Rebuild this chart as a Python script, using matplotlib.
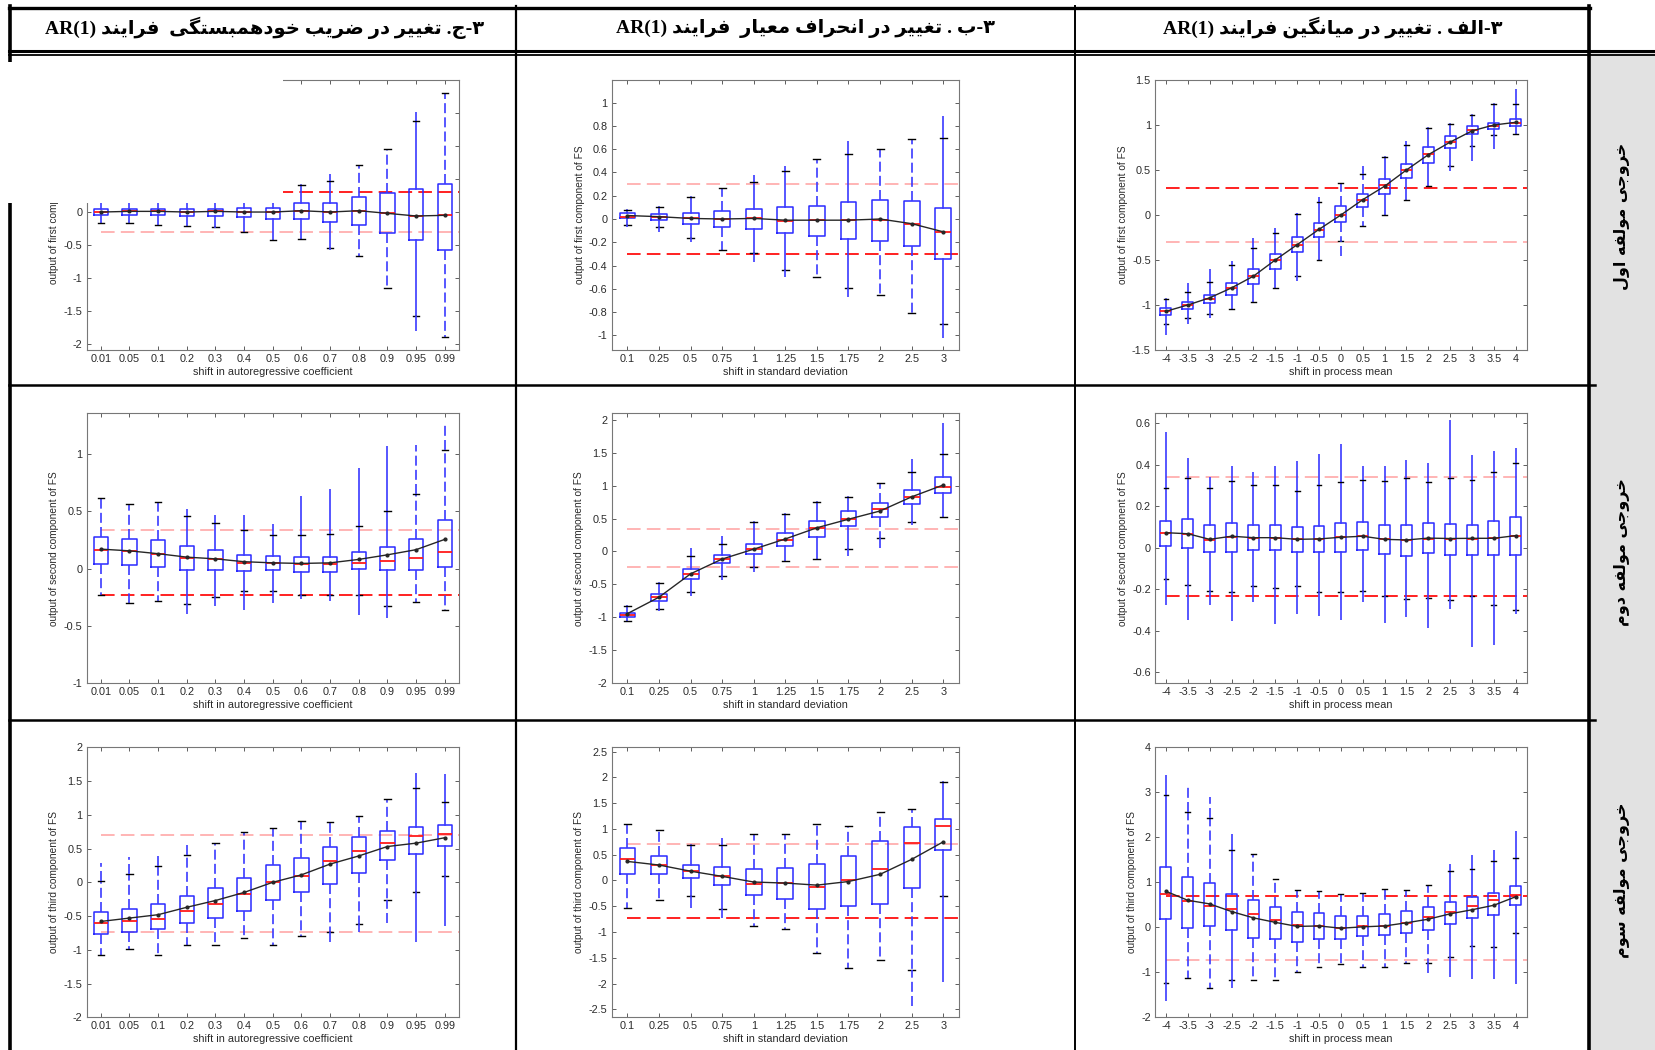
import matplotlib
matplotlib.use('Agg')
import matplotlib.pyplot as plt
from matplotlib.lines import Line2D
from matplotlib.patches import Rectangle
from matplotlib.ticker import FuncFormatter

plt.rcParams['font.family'] = ['Liberation Sans', 'DejaVu Sans']

# ---- categories -------------------------------------------------------
ac_labels = ['0.01', '0.05', '0.1', '0.2', '0.3', '0.4', '0.5', '0.6', '0.7',
             '0.8', '0.9', '0.95', '0.99']
sd_labels = ['0.1', '0.25', '0.5', '0.75', '1', '1.25', '1.5', '1.75', '2',
             '2.5', '3']
mn_labels = ['-4', '-3.5', '-3', '-2.5', '-2', '-1.5', '-1', '-0.5', '0',
             '0.5', '1', '1.5', '2', '2.5', '3', '3.5', '4']

# ---- row 1 : first component -----------------------------------------
ac1_q1 = [-0.04, -0.04, -0.04, -0.06, -0.06, -0.07, -0.10, -0.11, -0.15, -0.20, -0.32, -0.43, -0.57]
ac1_q3 = [0.04, 0.04, 0.05, 0.05, 0.05, 0.06, 0.06, 0.13, 0.14, 0.23, 0.29, 0.35, 0.42]
ac1_med = [0.0, 0.01, 0.01, 0.0, 0.01, 0.0, 0.0, 0.02, 0.0, 0.02, -0.02, -0.06, -0.04]
ac1_mean = [0.0, 0.01, 0.01, 0.0, 0.01, 0.0, 0.0, 0.02, 0.0, 0.02, -0.02, -0.06, -0.05]
ac1_wlo = [-0.16, -0.17, -0.19, -0.21, -0.23, -0.30, -0.43, -0.41, -0.55, -0.67, -1.15, -1.58, -1.89]
ac1_whi = [0.17, 0.17, 0.17, 0.17, 0.17, 0.17, 0.17, 0.41, 0.47, 0.71, 0.95, 1.38, 1.80]
ac1_lo = [-0.17, -0.17, -0.19, -0.21, -0.24, -0.30, -0.43, -0.41, -0.57, -0.67, -1.15, -1.80, -1.89]
ac1_hi = [0.17, 0.17, 0.17, 0.17, 0.17, 0.17, 0.17, 0.41, 0.57, 0.71, 0.95, 1.51, 1.80]

sd1_q1 = [0.006, -0.01, -0.043, -0.066, -0.083, -0.123, -0.146, -0.17, -0.19, -0.23, -0.347]
sd1_q3 = [0.05, 0.043, 0.05, 0.07, 0.083, 0.10, 0.115, 0.143, 0.163, 0.155, 0.097]
sd1_med = [0.02, 0.02, 0.005, 0.0, 0.005, -0.015, -0.01, -0.01, -0.01, -0.04, -0.11]
sd1_mean = [0.03, 0.02, 0.005, 0.0, 0.005, -0.01, -0.01, -0.01, 0.0, -0.04, -0.11]
sd1_wlo = [-0.05, -0.066, -0.16, -0.27, -0.29, -0.44, -0.495, -0.59, -0.656, -0.81, -0.90]
sd1_whi = [0.075, 0.106, 0.19, 0.27, 0.32, 0.415, 0.52, 0.56, 0.60, 0.69, 0.70]
sd1_lo = [-0.066, -0.11, -0.20, -0.27, -0.37, -0.50, -0.495, -0.67, -0.656, -0.81, -1.02]
sd1_hi = [0.075, 0.106, 0.19, 0.27, 0.375, 0.455, 0.52, 0.67, 0.60, 0.69, 0.885]

mn1_q1 = [-1.107, -1.04, -0.974, -0.893, -0.763, -0.596, -0.415, -0.244, -0.078, 0.089, 0.237, 0.41, 0.58, 0.744, 0.896, 0.96, 0.985]
mn1_q3 = [-1.033, -0.967, -0.885, -0.752, -0.596, -0.43, -0.244, -0.089, 0.096, 0.237, 0.404, 0.57, 0.756, 0.88, 0.985, 1.02, 1.07]
mn1_med = [-1.07, -1.0, -0.93, -0.81, -0.68, -0.5, -0.33, -0.17, 0.0, 0.17, 0.33, 0.5, 0.68, 0.81, 0.94, 0.99, 1.02]
mn1_mean = [-1.07, -1.0, -0.92, -0.81, -0.68, -0.5, -0.33, -0.16, 0.0, 0.17, 0.32, 0.5, 0.67, 0.81, 0.935, 1.0, 1.03]
mn1_wlo = [-1.207, -1.15, -1.096, -1.05, -0.967, -0.807, -0.678, -0.50, -0.285, -0.126, 0.0, 0.167, 0.318, 0.54, 0.763, 0.885, 0.896]
mn1_whi = [-0.933, -0.855, -0.744, -0.56, -0.367, -0.2, 0.01, 0.14, 0.355, 0.46, 0.644, 0.78, 0.963, 1.015, 1.107, 1.23, 1.23]
mn1_lo = [-1.337, -1.215, -1.15, -1.05, -0.967, -0.807, -0.733, -0.50, -0.46, -0.126, 0.0, 0.167, 0.318, 0.49, 0.6, 0.737, 0.896]
mn1_hi = [-0.933, -0.75, -0.6, -0.51, -0.25, -0.145, 0.026, 0.2, 0.355, 0.544, 0.644, 0.826, 0.963, 1.015, 1.107, 1.23, 1.396]

# ---- row 2 : second component ----------------------------------------
ac2_q1 = [0.04, 0.035, 0.012, -0.01, -0.01, -0.023, -0.015, -0.03, -0.03, -0.003, -0.015, -0.01, 0.012]
ac2_q3 = [0.28, 0.26, 0.25, 0.2, 0.165, 0.122, 0.11, 0.1, 0.1, 0.145, 0.19, 0.255, 0.427]
ac2_med = [0.165, 0.15, 0.13, 0.09, 0.08, 0.045, 0.05, 0.04, 0.04, 0.05, 0.065, 0.09, 0.145]
ac2_mean = [0.17, 0.155, 0.13, 0.10, 0.085, 0.06, 0.05, 0.045, 0.05, 0.08, 0.12, 0.165, 0.255]
ac2_wlo = [-0.227, -0.305, -0.28, -0.31, -0.25, -0.2, -0.2, -0.23, -0.23, -0.23, -0.325, -0.29, -0.366]
ac2_whi = [0.62, 0.567, 0.58, 0.46, 0.4, 0.337, 0.29, 0.29, 0.305, 0.37, 0.5, 0.65, 1.04]
ac2_lo = [-0.227, -0.305, -0.28, -0.40, -0.33, -0.36, -0.30, -0.27, -0.285, -0.41, -0.43, -0.29, -0.366]
ac2_hi = [0.62, 0.567, 0.58, 0.52, 0.465, 0.465, 0.39, 0.63, 0.695, 0.88, 1.07, 1.08, 1.27]

sd2_q1 = [-0.995, -0.756, -0.42, -0.183, -0.04, 0.08, 0.213, 0.386, 0.518, 0.72, 0.883]
sd2_q3 = [-0.934, -0.65, -0.27, -0.056, 0.11, 0.28, 0.47, 0.62, 0.73, 0.93, 1.127]
sd2_med = [-0.96, -0.70, -0.35, -0.12, 0.03, 0.17, 0.35, 0.50, 0.64, 0.82, 0.98]
sd2_mean = [-0.945, -0.695, -0.34, -0.115, 0.035, 0.19, 0.36, 0.49, 0.615, 0.83, 1.01]
sd2_wlo = [-1.056, -0.878, -0.62, -0.375, -0.23, -0.147, -0.117, 0.04, 0.2, 0.44, 0.518]
sd2_whi = [-0.83, -0.477, -0.07, 0.12, 0.44, 0.57, 0.756, 0.822, 1.035, 1.21, 1.477]
sd2_lo = [-1.056, -0.91, -0.675, -0.44, -0.32, -0.147, -0.117, -0.07, 0.045, 0.40, 0.518]
sd2_hi = [-0.83, -0.477, 0.046, 0.24, 0.44, 0.57, 0.756, 0.822, 1.035, 1.41, 1.95]

mn2_q1 = [0.01, 0.0, -0.02, -0.02, -0.013, -0.013, -0.02, -0.02, -0.02, -0.01, -0.03, -0.039, -0.026, -0.037, -0.034, -0.034, -0.034]
mn2_q3 = [0.127, 0.138, 0.11, 0.119, 0.11, 0.11, 0.10, 0.103, 0.119, 0.122, 0.11, 0.11, 0.119, 0.114, 0.11, 0.127, 0.148]
mn2_med = [0.07, 0.065, 0.038, 0.05, 0.045, 0.048, 0.04, 0.042, 0.05, 0.055, 0.04, 0.037, 0.044, 0.042, 0.04, 0.045, 0.055]
mn2_mean = [0.072, 0.067, 0.04, 0.055, 0.048, 0.048, 0.04, 0.042, 0.05, 0.055, 0.04, 0.037, 0.046, 0.044, 0.045, 0.045, 0.058]
mn2_wlo = [-0.152, -0.178, -0.21, -0.213, -0.186, -0.194, -0.183, -0.215, -0.215, -0.21, -0.235, -0.25, -0.242, -0.255, -0.231, -0.275, -0.30]
mn2_whi = [0.287, 0.335, 0.287, 0.32, 0.30, 0.30, 0.274, 0.30, 0.315, 0.327, 0.32, 0.335, 0.315, 0.335, 0.327, 0.367, 0.41]
mn2_lo = [-0.278, -0.347, -0.278, -0.355, -0.262, -0.366, -0.32, -0.33, -0.347, -0.262, -0.363, -0.334, -0.387, -0.294, -0.478, -0.472, -0.32]
mn2_hi = [0.557, 0.432, 0.343, 0.396, 0.367, 0.396, 0.419, 0.453, 0.5, 0.392, 0.396, 0.424, 0.408, 0.616, 0.445, 0.464, 0.483]

# ---- row 3 : third component -----------------------------------------
ac3_q1 = [-0.768, -0.739, -0.695, -0.60, -0.532, -0.42, -0.256, -0.138, -0.025, 0.133, 0.335, 0.42, 0.54]
ac3_q3 = [-0.433, -0.394, -0.325, -0.197, -0.08, 0.06, 0.26, 0.355, 0.53, 0.665, 0.754, 0.813, 0.847]
ac3_med = [-0.61, -0.58, -0.54, -0.42, -0.32, -0.17, 0.0, 0.09, 0.31, 0.46, 0.58, 0.68, 0.72]
ac3_mean = [-0.58, -0.53, -0.48, -0.37, -0.27, -0.15, 0.0, 0.11, 0.27, 0.39, 0.53, 0.58, 0.66]
ac3_wlo = [-1.07, -0.985, -1.08, -0.936, -0.936, -0.83, -0.926, -0.79, -0.74, -0.616, -0.256, -0.148, 0.09]
ac3_whi = [0.02, 0.123, 0.236, 0.404, 0.576, 0.75, 0.80, 0.91, 0.90, 0.985, 1.23, 1.39, 1.19]
ac3_lo = [-1.07, -0.985, -1.08, -0.936, -0.936, -0.83, -0.926, -0.79, -0.89, -0.74, -0.60, -0.89, -0.64]
ac3_hi = [0.28, 0.37, 0.39, 0.60, 0.576, 0.75, 0.80, 0.91, 0.90, 0.985, 1.23, 1.615, 1.60]

sd3_q1 = [0.117, 0.117, 0.052, -0.078, -0.286, -0.35, -0.558, -0.49, -0.448, -0.143, 0.60]
sd3_q3 = [0.636, 0.474, 0.31, 0.26, 0.227, 0.247, 0.325, 0.467, 0.766, 1.045, 1.195]
sd3_med = [0.42, 0.31, 0.18, 0.08, -0.06, -0.05, -0.12, 0.0, 0.22, 0.73, 1.06]
sd3_mean = [0.37, 0.30, 0.18, 0.08, -0.03, -0.05, -0.09, -0.02, 0.12, 0.41, 0.75]
sd3_wlo = [-0.53, -0.37, -0.30, -0.56, -0.88, -0.95, -1.41, -1.70, -1.54, -1.73, -0.30]
sd3_whi = [1.09, 0.98, 0.69, 0.69, 0.90, 0.91, 1.10, 1.065, 1.32, 1.39, 1.92]
sd3_lo = [-0.53, -0.37, -0.53, -0.73, -0.88, -0.95, -1.41, -1.70, -1.54, -2.43, -1.97]
sd3_hi = [1.09, 0.98, 0.69, 0.83, 0.90, 0.91, 1.10, 1.065, 1.32, 1.39, 1.92]

mn3_q1 = [0.19, -0.015, 0.03, -0.066, -0.235, -0.265, -0.32, -0.25, -0.25, -0.20, -0.176, -0.125, -0.05, 0.066, 0.206, 0.28, 0.50]
mn3_q3 = [1.33, 1.11, 0.985, 0.73, 0.61, 0.45, 0.34, 0.324, 0.243, 0.257, 0.294, 0.353, 0.45, 0.56, 0.67, 0.765, 0.926]
mn3_med = [0.74, 0.58, 0.48, 0.40, 0.30, 0.17, 0.06, 0.03, -0.02, 0.02, 0.02, 0.10, 0.24, 0.33, 0.48, 0.60, 0.72]
mn3_mean = [0.80, 0.60, 0.52, 0.35, 0.21, 0.11, 0.02, 0.03, -0.02, 0.01, 0.03, 0.10, 0.18, 0.30, 0.39, 0.49, 0.68]
mn3_wlo = [-1.24, -1.13, -1.35, -1.18, -1.17, -1.18, -1.0, -0.89, -0.82, -0.89, -0.875, -0.80, -0.80, -0.66, -0.41, -0.43, -0.125]
mn3_whi = [2.95, 2.56, 2.43, 1.71, 1.64, 1.07, 0.84, 0.80, 0.73, 0.765, 0.85, 0.84, 0.94, 1.26, 1.29, 1.48, 1.55]
mn3_lo = [-1.63, -1.13, -1.35, -1.35, -1.17, -1.18, -1.0, -0.89, -0.82, -0.89, -0.875, -0.80, -1.02, -1.10, -1.15, -1.15, -1.26]
mn3_hi = [3.39, 3.18, 2.90, 2.08, 1.64, 1.07, 0.84, 0.80, 0.73, 0.765, 0.85, 0.84, 0.94, 1.40, 1.60, 1.71, 2.15]

# control limits per panel (upper, lower), row by row, left to right
limit_hi = [0.30, 0.30, 0.30, 0.34, 0.335, 0.34, 0.70, 0.705, 0.70]
limit_lo = [-0.30, -0.30, -0.30, -0.23, -0.24, -0.233, -0.74, -0.735, -0.735]

# texts
x_titles = ['shift in autoregressive coefficient', 'shift in standard deviation',
            'shift in process mean']
y_titles = ['output of first component of FS', 'output of second component of FS',
            'output of third component of FS']
headers = ['۳-ج. تغییر در ضریب خودهمبستگی  فرایند',
           '۳-ب . تغییر در انحراف معیار  فرایند',
           '۳-الف . تغییر در میانگین فرایند']
row_titles = ['خروجی مولفه اول', 'خروجی مولفه دوم', 'خروجی مولفه سوم']

# ---- minimal Persian shaping (matplotlib has no bidi / joining) ----------
FORMS = {  # isolated, final, initial, medial
    '\u0627': (0xFE8D, 0xFE8E), '\u062F': (0xFEA9, 0xFEAA),
    '\u0631': (0xFEAD, 0xFEAE), '\u0648': (0xFEED, 0xFEEE),
    '\u0628': (0xFE8F, 0xFE90, 0xFE91, 0xFE92), '\u062A': (0xFE95, 0xFE96, 0xFE97, 0xFE98),
    '\u062C': (0xFE9D, 0xFE9E, 0xFE9F, 0xFEA0), '\u062D': (0xFEA1, 0xFEA2, 0xFEA3, 0xFEA4),
    '\u062E': (0xFEA5, 0xFEA6, 0xFEA7, 0xFEA8), '\u0633': (0xFEB1, 0xFEB2, 0xFEB3, 0xFEB4),
    '\u0636': (0xFEBD, 0xFEBE, 0xFEBF, 0xFEC0), '\u0639': (0xFEC9, 0xFECA, 0xFECB, 0xFECC),
    '\u063A': (0xFECD, 0xFECE, 0xFECF, 0xFED0), '\u0641': (0xFED1, 0xFED2, 0xFED3, 0xFED4),
    '\u0644': (0xFEDD, 0xFEDE, 0xFEDF, 0xFEE0), '\u0645': (0xFEE1, 0xFEE2, 0xFEE3, 0xFEE4),
    '\u0646': (0xFEE5, 0xFEE6, 0xFEE7, 0xFEE8), '\u0647': (0xFEE9, 0xFEEA, 0xFEEB, 0xFEEC),
    '\u06CC': (0xFBFC, 0xFBFD, 0xFBFE, 0xFBFF), '\u06AF': (0xFB92, 0xFB93, 0xFB94, 0xFB95),
}


def rtl(s):
    s = s.replace('\u064A', '\u06CC')
    out = []
    for i, ch in enumerate(s):
        f = FORMS.get(ch)
        if f is None:
            out.append(ch)
            continue
        prev = s[i - 1] if i > 0 else ''
        nxt = s[i + 1] if i + 1 < len(s) else ''
        jp = prev in FORMS and len(FORMS[prev]) == 4
        jn = len(f) == 4 and nxt in FORMS
        idx = (3 if jn else 1) if jp else (2 if jn else 0)
        out.append(chr(f[idx]))
    return ''.join(out)[::-1]


# ---- figure ----------------------------------------------------------
W, H = 1655, 1050
fig = plt.figure(figsize=(W / 100, H / 100), dpi=100)


def fx(x):
    return x / W


def fy(y):
    return 1 - y / H


def hline(y, x0, x1, lw):
    fig.add_artist(Line2D([fx(x0), fx(x1)], [fy(y), fy(y)], color='black', lw=lw))


def vline(x, y0, y1, lw):
    fig.add_artist(Line2D([fx(x), fx(x)], [fy(y0), fy(y1)], color='black', lw=lw))


col_x = [(86.5, 459), (611.7, 959), (1155, 1526.7)]
row_y = [(80, 350), (413.3, 683), (747.3, 1017.3)]
ylims = [(-2.09, 2.0), (-1.126, 1.195), (-1.5, 1.5),
         (-1.0, 1.357), (-2.0, 2.1), (-0.653, 0.648),
         (-2.0, 2.0), (-2.655, 2.585), (-2.0, 4.0)]
ysteps = [0.5, 0.2, 0.5, 0.5, 0.5, 0.2, 0.5, 0.5, 1.0]
styles = ['sssssssssddsd', 'sssdssdsdds', 'ssssssssddsssssss',
          'dddssssssssdd', 'ssssssssdss', 's' * 17,
          'dddddddddddss', 'ddssdddddds', 'sddsddddddddd' + 'ssss']
limit_colors = [('#ff2020', '#ffb4b4'), ('#ffb4b4', '#ff2020'), ('#ff2020', '#ffb4b4'),
                ('#ffb4b4', '#ff2020'), ('#ffb4b4', '#ffb4b4'), ('#ffb4b4', '#ff2020'),
                ('#ffb4b4', '#ffb4b4'), ('#ffb4b4', '#ff2020'), ('#ff2020', '#ffb4b4')]

panels = [
    (ac1_lo, ac1_wlo, ac1_q1, ac1_med, ac1_q3, ac1_whi, ac1_hi, ac1_mean),
    (sd1_lo, sd1_wlo, sd1_q1, sd1_med, sd1_q3, sd1_whi, sd1_hi, sd1_mean),
    (mn1_lo, mn1_wlo, mn1_q1, mn1_med, mn1_q3, mn1_whi, mn1_hi, mn1_mean),
    (ac2_lo, ac2_wlo, ac2_q1, ac2_med, ac2_q3, ac2_whi, ac2_hi, ac2_mean),
    (sd2_lo, sd2_wlo, sd2_q1, sd2_med, sd2_q3, sd2_whi, sd2_hi, sd2_mean),
    (mn2_lo, mn2_wlo, mn2_q1, mn2_med, mn2_q3, mn2_whi, mn2_hi, mn2_mean),
    (ac3_lo, ac3_wlo, ac3_q1, ac3_med, ac3_q3, ac3_whi, ac3_hi, ac3_mean),
    (sd3_lo, sd3_wlo, sd3_q1, sd3_med, sd3_q3, sd3_whi, sd3_hi, sd3_mean),
    (mn3_lo, mn3_wlo, mn3_q1, mn3_med, mn3_q3, mn3_whi, mn3_hi, mn3_mean),
]
cat_labels = [ac_labels, sd_labels, mn_labels]

DASH = (0, (6, 2.5))
tick_fmt = FuncFormatter(lambda v, _: '0' if abs(v) < 1e-9 else f'{round(v, 2):g}')

for k, (lo, wlo, q1, med, q3, whi, hi, mean) in enumerate(panels):
    r, c = divmod(k, 3)
    (x0, x1), (y0, y1) = col_x[c], row_y[r]
    ax = fig.add_axes([fx(x0), fy(y1), fx(x1 - x0), (y1 - y0) / H])
    labels = cat_labels[c]
    pos = list(range(1, len(labels) + 1))

    # control limits
    ax.hlines([limit_hi[k], limit_lo[k]], 1, len(labels) + 0.5, colors=limit_colors[k],
              lw=1.4, linestyles=[(0, (7, 3.2))], zorder=1)

    for st in 'sd':
        idx = [i for i in pos if styles[k][i - 1] == st]
        if not idx:
            continue
        ls = '-' if st == 's' else DASH
        stats = [dict(whislo=wlo[i - 1], q1=q1[i - 1], med=med[i - 1], q3=q3[i - 1],
                      whishi=whi[i - 1], fliers=[]) for i in idx]
        ax.bxp(stats, positions=idx, widths=0.5, capwidths=0.22, showfliers=False,
               manage_ticks=False,
               boxprops=dict(color='#2a2aff', lw=1.1),
               whiskerprops=dict(color='#3a3aff', lw=1.2, linestyle=ls),
               capprops=dict(color='black', lw=1.0),
               medianprops=dict(color='#ff1a1a', lw=1.3))
        # whisker tails beyond the caps
        ax.vlines(idx, [lo[i - 1] for i in idx], [wlo[i - 1] for i in idx],
                  colors='#3a3aff', lw=1.2, linestyles=[ls], zorder=2)
        ax.vlines(idx, [whi[i - 1] for i in idx], [hi[i - 1] for i in idx],
                  colors='#3a3aff', lw=1.2, linestyles=[ls], zorder=2)

    ax.plot(pos, mean, color='#262626', lw=1.0, marker='.', ms=4, zorder=4)

    ax.set_xlim(0.5, len(labels) + 0.5)
    ax.set_ylim(*ylims[k])
    lo_t, hi_t = ylims[k]
    step = ysteps[k]
    n0 = int(round(lo_t / step + 0.49))
    n1 = int(round(hi_t / step - 0.49))
    ax.set_yticks([n * step for n in range(n0, n1 + 1)])
    ax.yaxis.set_major_formatter(tick_fmt)
    ax.set_xticks(pos)
    ax.set_xticklabels(labels)
    ax.tick_params(direction='in', length=3, width=0.6, top=True, right=True,
                   labelsize=7.8, color='#444444', labelcolor='#2a2a2a', pad=3)
    for sp in ax.spines.values():
        sp.set_color('#777777')
        sp.set_linewidth(0.8)
    ax.set_xlabel(x_titles[c], fontsize=7.8, color='#2a2a2a', labelpad=2)
    ax.set_ylabel(y_titles[r], fontsize=7.3, color='#2a2a2a', labelpad=3)

# ---- table frame -----------------------------------------------------
fig.add_artist(Rectangle((fx(1590), 0), fx(W - 1590), fy(52), color='#e2e2e2', lw=0, zorder=0.5))
hline(7.5, 9, 1590, 2.4)
hline(50.5, 9, W, 2.2)
hline(54.5, 9, W, 1.3)
hline(385, 9, 1595, 1.8)
hline(720, 9, 1595, 1.8)
vline(10, 6, H, 2.6)
vline(516, 6, H, 1.6)
vline(1074.5, 6, H, 1.4)
vline(1589, 6, H, 2.6)

# white patch hiding the upper-left corner of the first panel
fig.add_artist(Rectangle((fx(4), fy(203)), fx(283 - 4), (203 - 62) / H, color='white', lw=0, zorder=5))

head_cx = [265, 806, 1333]
for cx, txt in zip(head_cx, headers):
    fig.text(fx(cx), fy(28), 'AR(1) ' + rtl(txt), ha='center', va='center', fontsize=14,
             fontweight='bold', family=['Liberation Serif', 'DejaVu Sans'])

row_cy = [216, 552, 880]
for cy, txt in zip(row_cy, row_titles):
    fig.text(fx(1622), fy(cy), rtl(txt), ha='center', va='center', rotation=90,
             fontsize=11.5, fontweight='bold', family=['DejaVu Sans'])

fig.savefig('out.png', dpi=100)
